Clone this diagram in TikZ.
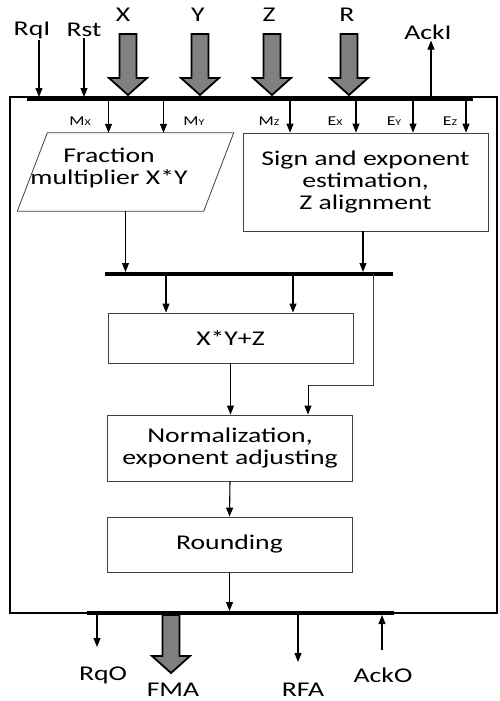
\documentclass[tikz,border=0pt]{standalone}
\usepackage{fontspec}
\setmainfont{Carlito}[FakeStretch=1.32]
\usetikzlibrary{positioning, arrows.meta}

\newcommand{\subsig}[2]{{\fontsize{13.5}{13.5}\selectfont #1\fontsize{9}{9}\selectfont #2}}
% wide data arrow: x, top y, tip y
\newcommand{\widearrow}[3]{%
    \draw[line width=1.8pt, fill=black!50]
        (#1-8.5,#2) -- (#1+8.5,#2) -- (#1+8.5,#3-17) -- (#1+19,#3-17)
        -- (#1,#3) -- (#1-19,#3-17) -- (#1-8.5,#3-17) -- cycle;}

\begin{document}
\begin{tikzpicture}[
    x=1pt, y=-1pt,
    font=\fontsize{21}{22}\selectfont,
    box/.style={
        draw=black!75,
        line width=0.8pt,
        align=center,
        minimum width=245pt,
        inner sep=0pt
    },
    para/.style={
        align=center,
        minimum width=186pt,
        minimum height=78pt,
        inner sep=0pt
    },
    sig/.style={
        inner sep=1pt
    },
    small/.style={
        inner sep=0pt
    },
    arrow/.style={
        -{Triangle[length=9pt, width=7pt]},
        line width=1.1pt
    },
    wire/.style={
        line width=0.8pt,
        draw=black!75
    },
    bus/.style={
        line width=4.5pt
    }
]

\useasboundingbox (0,0) rectangle (499,701);

% frame of the unit
\draw[line width=1.8pt] (10,97) rectangle (497,613);

% buses
\coordinate (inL) at (27,99);
\coordinate (inR) at (473,99);
\coordinate (midL) at (105,274);
\coordinate (midR) at (393,274);
\coordinate (outL) at (87,613);
\coordinate (outR) at (394,613);
\draw[bus] (inL) -- (inR);
\draw[bus] (midL) -- (midR);
\draw[bus] (outL) -- (outR);

% inputs
\node[sig] (rqi) at (32,30) {RqI};
\node[sig] (rst) at (84,30) {Rst};
\node[sig] (xin) at (123,15) {X};
\node[sig] (yin) at (198,15) {Y};
\node[sig] (zin) at (269,15) {Z};
\node[sig] (rin) at (347,15) {R};
\node[sig] (acki) at (428,32) {AckI};

\draw[arrow, shorten >=2pt] ([xshift=7pt]rqi.south) -- ([xshift=7pt]rqi.south |- inL);
\draw[arrow, shorten >=2pt] (rst.south) -- (rst.south |- inL);
\draw[arrow, shorten <=2pt] ([xshift=3pt]acki.south |- inL) -- ([xshift=3pt]acki.south);

\widearrow{128}{34}{95}
\widearrow{200}{34}{95}
\widearrow{272}{34}{95}
\widearrow{349}{34}{95}

% blocks
\node[para] (frac) at (125.5,172) {};
\draw[wire] ([xshift=15pt]frac.north west) -- ([xshift=15pt]frac.north east)
    -- ([xshift=-15pt]frac.south east) -- ([xshift=-15pt]frac.south west) -- cycle;
\node[align=center] (fractext) at (109,168) {Fraction\\multiplier X*Y};
\node[box, minimum height=98pt] (sign) at (365.5,182)
    {Sign and exponent\\estimation,\\Z alignment};
\node[box, minimum height=50pt] (xyz) at (230.5,338) {X*Y+Z};
\node[box, minimum height=66pt] (norm) at (230,448)
    {Normalization,\\exponent adjusting};
\node[box, minimum height=55pt] (round) at (229.5,544.5) {Rounding};

% fields
\node[small] (mx) at (80,121) {\subsig{M}{X}};
\node[small] (my) at (194,121) {\subsig{M}{Y}};
\node[small] (mz) at (269,121) {\subsig{M}{Z}};
\node[small] (ex) at (335,121) {\subsig{E}{X}};
\node[small] (ey) at (394,121) {\subsig{E}{Y}};
\node[small] (ez) at (450,121) {\subsig{E}{Z}};

\draw[arrow] ([xshift=-17pt]frac.north |- inL) -- ([xshift=-17pt]frac.north);
\draw[arrow] ([xshift=38pt]frac.north |- inL) -- ([xshift=38pt]frac.north);
\draw[arrow] ([xshift=-75.5pt]sign.north |- inL) -- ([xshift=-75.5pt]sign.north);
\draw[arrow] ([xshift=-9.5pt]sign.north |- inL) -- ([xshift=-9.5pt]sign.north);
\draw[arrow] ([xshift=47.5pt]sign.north |- inL) -- ([xshift=47.5pt]sign.north);
\draw[arrow] ([xshift=100.5pt]sign.north |- inL) -- ([xshift=100.5pt]sign.north);

\draw[arrow, shorten >=2pt] (frac.south) -- (frac.south |- midL);
\draw[arrow, shorten >=2pt] ([xshift=-2.5pt]sign.south) -- ([xshift=-2.5pt]sign.south |- midL);

\draw[arrow] ([xshift=-64.5pt]xyz.north |- midL) -- ([xshift=-64.5pt]xyz.north);
\draw[arrow] ([xshift=62.5pt]xyz.north |- midL) -- ([xshift=62.5pt]xyz.north);
\coordinate (bend) at (308,385);
\draw[wire] (373,274) |- (bend);
\draw[arrow, line width=0.9pt] (bend) -- ([xshift=78pt]norm.north);

\draw[arrow] (xyz.south) -- (xyz.south |- norm.north);
\draw[arrow] (norm.south) -- (round.north);
\draw[arrow, shorten >=2pt] (round.south) -- (round.south |- outL);

% outputs
\node[sig] (rqo) at (103,675) {RqO};
\node[sig] (fma) at (173,690) {FMA};
\node[sig] (rfa) at (303,690) {RFA};
\node[sig] (acko) at (383,675) {AckO};

\coordinate (rqoend) at (97,647);
\coordinate (rfaend) at (298,662);
\coordinate (ackobeg) at (382,650);
\draw[arrow, shorten <=2pt] (rqoend |- outL) -- (rqoend);
\draw[arrow, shorten <=2pt] (rfaend |- outL) -- (rfaend);
\draw[arrow, shorten >=2pt] (ackobeg) -- (ackobeg |- outL);
\widearrow{171}{615}{673}

\end{tikzpicture}
\end{document}
